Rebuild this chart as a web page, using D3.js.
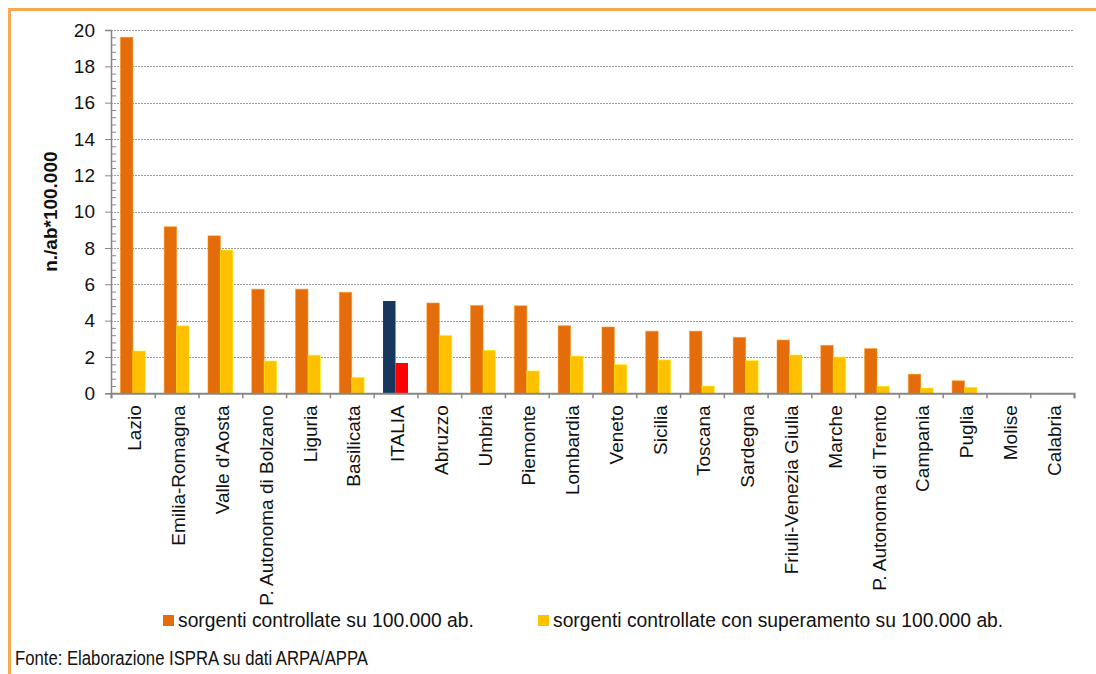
<!DOCTYPE html>
<html>
<head>
<meta charset="utf-8">
<script src="https://cdn.jsdelivr.net/npm/d3@7"></script>
<style>
  body { margin: 0; background: #fff; }
  svg { display: block; font-family: 'Liberation Sans', Arial, sans-serif; }
</style>
</head>
<body>
<div id="chart"></div>
<script>
var regions = ['Lazio', 'Emilia-Romagna', "Valle d'Aosta", 'P. Autonoma di Bolzano', 'Liguria', 'Basilicata',
  'ITALIA', 'Abruzzo', 'Umbria', 'Piemonte', 'Lombardia', 'Veneto', 'Sicilia', 'Toscana', 'Sardegna',
  'Friuli-Venezia Giulia', 'Marche', 'P. Autonoma di Trento', 'Campania', 'Puglia', 'Molise', 'Calabria'];
var controllate = [19.6, 9.17, 8.67, 5.73, 5.73, 5.56, 5.08, 4.97, 4.84, 4.82, 3.72, 3.65, 3.42, 3.42,
  3.08, 2.93, 2.64, 2.46, 1.05, 0.69, 0, 0];
var superamento = [2.33, 3.72, 7.89, 1.78, 2.1, 0.88, 1.67, 3.19, 2.37, 1.23, 2.05, 1.58, 1.84, 0.4,
  1.8, 2.11, 2.0, 0.39, 0.29, 0.33, 0, 0];
var seriesNames = ['sorgenti controllate su 100.000 ab.', 'sorgenti controllate con superamento su 100.000 ab.'];
var yTicks = [0, 2, 4, 6, 8, 10, 12, 14, 16, 18, 20];

var W = 1096, H = 674;
var plot = { left: 111, right: 1074, top: 30, bottom: 393.3 };
var colors = ['#E46C0A', '#FFC000'];
var italiaColors = ['#17375E', '#FF0000'];

var svg = d3.select('#chart').append('svg')
  .attr('width', W)
  .attr('height', H);

// orange frame
svg.append('rect')
  .attr('x', 9.5).attr('y', 9.5)
  .attr('width', 1200).attr('height', 800)
  .attr('fill', 'none')
  .attr('stroke', '#F7A850')
  .attr('stroke-width', 3);

var y = d3.scaleLinear().domain([0, 20]).range([plot.bottom, plot.top]);
var x0 = d3.scaleBand().domain(regions).range([plot.left, plot.right]).paddingInner(0.43).paddingOuter(0.215);
var x1 = d3.scaleBand().domain([0, 1]).range([0, x0.bandwidth()]);
var xLab = d3.scaleBand().domain(regions).range([plot.left, plot.right]);

// gridlines
svg.append('g')
  .selectAll('line')
  .data(yTicks.filter(d => d > 0))
  .enter().append('line')
    .attr('x1', plot.left).attr('x2', plot.right)
    .attr('y1', d => Math.round(y(d)) + 0.5).attr('y2', d => Math.round(y(d)) + 0.5)
    .attr('stroke', '#9a9a9a')
    .attr('stroke-dasharray', '2,1');

// bars
var rows = regions.map((r, i) => ({ region: r, values: [controllate[i], superamento[i]] }));
var groups = svg.append('g')
  .selectAll('g')
  .data(rows)
  .enter().append('g')
    .attr('transform', d => `translate(${x0(d.region)},0)`);

groups.selectAll('rect')
  .data(d => d.values.map((v, k) => ({ v: v, k: k, region: d.region })))
  .enter().append('rect')
    .filter(d => d.v > 0)
    .attr('x', d => x1(d.k))
    .attr('y', d => y(d.v))
    .attr('width', x1.bandwidth())
    .attr('height', d => y(0) - y(d.v))
    .attr('fill', d => d.region === 'ITALIA' ? italiaColors[d.k] : colors[d.k])
    .attr('stroke', d => d.region === 'ITALIA' ? 'none' : d3.color(colors[d.k]).brighter(0.9))
    .attr('stroke-opacity', 0.5)
    .attr('stroke-width', 1);

// y axis: major ticks left, minor ticks right
var yAxis = svg.append('g')
  .attr('transform', `translate(${plot.left},0)`)
  .call(d3.axisLeft(y).tickValues(yTicks).tickSize(6));
yAxis.select('.domain').attr('stroke', '#868686').attr('stroke-width', 1.5);
yAxis.selectAll('.tick line').attr('stroke', '#868686');
yAxis.selectAll('.tick text')
  .attr('font-size', 19)
  .attr('fill', '#111')
  .attr('x', -16);

var minor = d3.range(0, 20.01, 0.4).filter(d => Math.abs(d / 2 - Math.round(d / 2)) > 0.01);
var yMinor = svg.append('g')
  .attr('transform', `translate(${plot.left},0)`)
  .call(d3.axisRight(y).tickValues(minor).tickSize(5).tickFormat(''));
yMinor.select('.domain').remove();
yMinor.selectAll('.tick line').attr('stroke', '#868686');

// x axis: ticks between categories
var xTicks = d3.scaleLinear().domain([0, regions.length]).range([plot.left, plot.right]);
var xAxis = svg.append('g')
  .attr('transform', `translate(0,${plot.bottom})`)
  .call(d3.axisBottom(xTicks).ticks(regions.length).tickSize(5).tickFormat(''));
xAxis.select('.domain').attr('stroke', '#868686').attr('stroke-width', 2);
xAxis.selectAll('.tick line').attr('stroke', '#868686').attr('stroke-width', 1.5);

var xLabels = svg.append('g')
  .attr('transform', `translate(0,${plot.bottom})`)
  .call(d3.axisBottom(xLab).tickSize(0));
xLabels.select('.domain').remove();
xLabels.selectAll('.tick text')
  .attr('transform', 'rotate(-90)')
  .attr('text-anchor', 'end')
  .attr('x', -12)
  .attr('y', 0)
  .attr('dy', '0.45em')
  .attr('font-size', 19)
  .attr('fill', '#111');

// y title
svg.append('text')
  .attr('transform', `translate(57,${(plot.top + plot.bottom) / 2}) rotate(-90)`)
  .attr('text-anchor', 'middle')
  .attr('font-size', 19)
  .attr('font-weight', 'bold')
  .attr('fill', '#111')
  .text('n./ab*100.000');

// legend
var legendX = [163, 538];
var legend = svg.append('g')
  .selectAll('g')
  .data(seriesNames)
  .enter().append('g')
    .attr('transform', (d, i) => `translate(${legendX[i]},615)`);
legend.append('rect')
  .attr('width', 11).attr('height', 11)
  .attr('fill', (d, i) => colors[i]);
legend.append('text')
  .attr('x', 15).attr('y', 12)
  .attr('font-size', 19.3)
  .attr('fill', '#111')
  .text(d => d);

// source note
svg.append('text')
  .attr('x', 15).attr('y', 665)
  .attr('font-size', 20)
  .attr('textLength', 353)
  .attr('lengthAdjust', 'spacingAndGlyphs')
  .attr('fill', '#111')
  .text('Fonte: Elaborazione ISPRA su dati ARPA/APPA');
</script>
</body>
</html>
